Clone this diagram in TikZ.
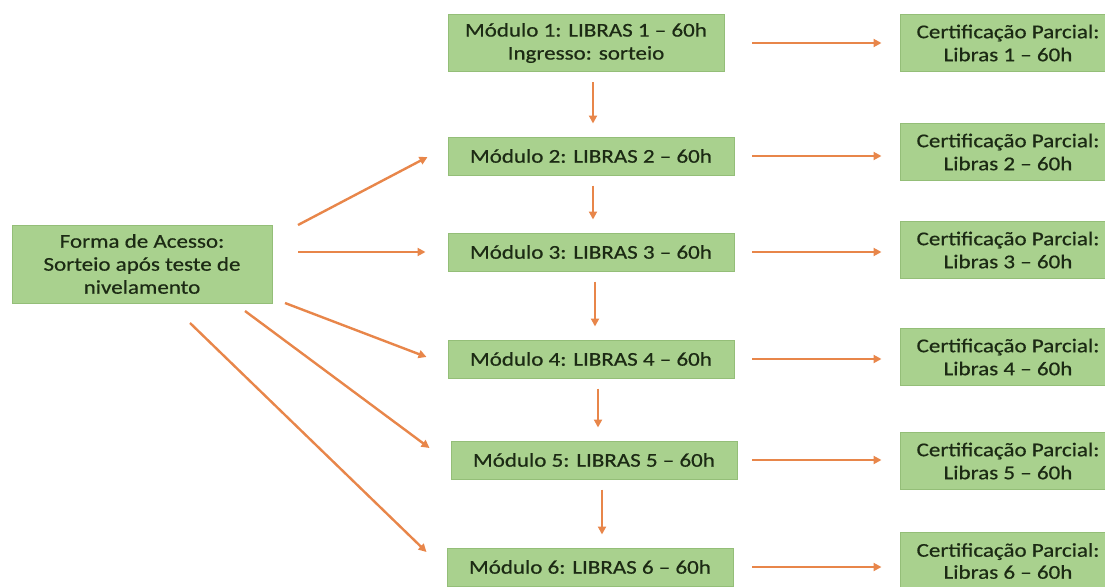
\documentclass[tikz,border=0pt]{standalone}
\usepackage{fontspec}
\setmainfont{Carlito}[FakeStretch=1.18,FakeBold=0.6]
\usetikzlibrary{arrows.meta,calc}
\definecolor{boxfill}{HTML}{A9D18E}
\definecolor{boxline}{HTML}{94BE78}
\definecolor{txt}{HTML}{1C2A14}
\definecolor{arr}{HTML}{E8864A}
\tikzset{
  gbox/.style={draw=boxline, line width=1pt, fill=boxfill, text=txt, align=center,
    inner sep=0pt, font=\fontsize{19.5}{23}\selectfont},
  modbox/.style={gbox, minimum width=286pt, minimum height=38pt},
  certbox/.style={gbox, minimum width=216pt, minimum height=57pt},
  conn/.style={draw=arr, line width=2.4pt, -{Triangle[length=8pt,width=8pt]}}
}
\begin{document}
\begin{tikzpicture}[x=1pt,y=-1pt]
\useasboundingbox (0,0) rectangle (1105,586);
\node[gbox, minimum width=260pt, minimum height=78pt] (forma) at (142,264)
  {Forma de Acesso:\\Sorteio após teste de\\nivelamento};
\node[modbox, minimum width=276pt, minimum height=57pt] (m1) at (586,43) {Módulo 1: LIBRAS 1 – 60h\\Ingresso: sorteio};
\node[modbox] (m2) at (591,156) {Módulo 2: LIBRAS 2 – 60h};
\node[modbox] (m3) at (591,252) {Módulo 3: LIBRAS 3 – 60h};
\node[modbox] (m4) at (591,359) {Módulo 4: LIBRAS 4 – 60h};
\node[modbox] (m5) at (594,460) {Módulo 5: LIBRAS 5 – 60h};
\node[modbox] (m6) at (590,567) {Módulo 6: LIBRAS 6 – 60h};
\node[certbox] (c1) at (1008,43) {Certificação Parcial:\\Libras 1 – 60h};
\node[certbox] (c2) at (1008,152) {Certificação Parcial:\\Libras 2 – 60h};
\node[certbox] (c3) at (1008,250) {Certificação Parcial:\\Libras 3 – 60h};
\node[certbox] (c4) at (1008,357) {Certificação Parcial:\\Libras 4 – 60h};
\node[certbox] (c5) at (1008,461) {Certificação Parcial:\\Libras 5 – 60h};
\node[certbox, font=\fontsize{19.5}{22}\selectfont] (c6) at (1008,561) {Certificação Parcial:\\Libras 6 – 60h};
% vertical arrows
\draw[conn, shorten <=10pt, shorten >=13pt] (m1.south -| 593,0) -- (m2.north -| 593,0);
\draw[conn, shorten <=10pt, shorten >=13pt] (m2.south -| 593,0) -- (m3.north -| 593,0);
\draw[conn, shorten <=10pt, shorten >=13pt] (m3.south -| 595,0) -- (m4.north -| 595,0);
\draw[conn, shorten <=10pt, shorten >=13pt] (m4.south -| 598,0) -- (m5.north -| 598,0);
\draw[conn, shorten <=10pt, shorten >=13pt] (m5.south -| 602,0) -- (m6.north -| 602,0);
% horizontal arrows
\foreach \i in {1,...,6}{
  \draw[conn] (m\i.east -| 752,0) -- ($(c\i.west |- m\i.east)+(-18,0)$);
}
% diagonal arrows
\coordinate (s2) at (298,225);
\coordinate (s3) at (298,252);
\coordinate (s4) at (285,303);
\coordinate (s5) at (245,311);
\coordinate (s6) at (190,323);
\draw[conn] (s2) -- ($(m2.west)+(-20,1)$);
\draw[conn] (s3) -- ($(m3.west)+(-22,0)$);
\draw[conn] (s4) -- ($(m4.west)+(-21,-2)$);
\draw[conn] (s5) -- ($(m5.west)+(-21,-12)$);
\draw[conn] (s6) -- ($(m6.west)+(-20,-15)$);
\end{tikzpicture}
\end{document}
